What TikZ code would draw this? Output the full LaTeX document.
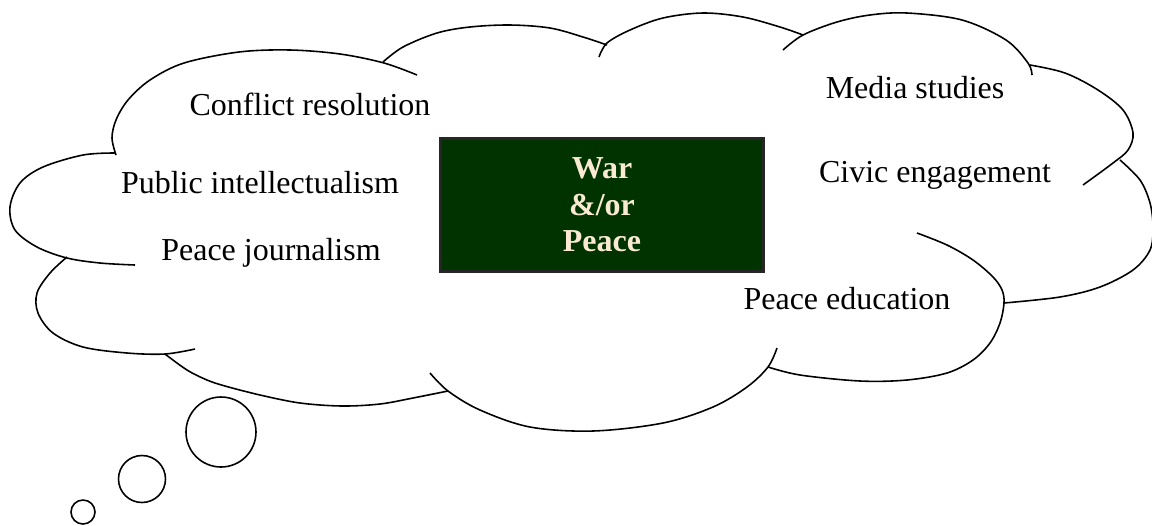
\documentclass[tikz,border=0pt]{standalone}
\usepackage{fontspec}
\setmainfont{Liberation Serif}
\definecolor{boxgreen}{RGB}{0,51,0}
\definecolor{boxtext}{RGB}{250,234,212}
\begin{document}
\begin{tikzpicture}[x=0.02cm, y=-0.02cm,
    lobe/.style={line width=0.9pt, smooth, tension=0.55},
    itemtext/.style={anchor=base, font=\fontsize{18.2}{20.8}\selectfont}]
          \useasboundingbox (0,0) rectangle (1152,525);

          % Define the thought bubbles for easier readability
          \def\bigbubble{(221,432) circle (35)}
          \def\midbubble{(142,479) circle (23.5)}
          \def\smallbubble{(83,512) circle (12)}

          % Draw the cloud, one lobe at a time
          \draw[lobe] plot coordinates {(116,155) (112,138) (116,120) (128,100) (150,80) (184,63) (239,52) (290,50) (340,54) (384,63) (417,75)};
          \draw[lobe] plot coordinates {(383,62) (403,47) (437,33) (470,27) (510,25) (550,28) (583,37) (607,45)};
          \draw[lobe] plot coordinates {(599,57) (607,43) (630,30) (663,18) (703,13) (743,17) (780,27) (803,35)};
          \draw[lobe] plot coordinates {(783,50) (803,35) (837,22) (870,15) (907,13) (962,20) (1006,40) (1028,63) (1032,75)};
          \draw[lobe] plot coordinates {(1030,65) (1065,73) (1098,90) (1123,110) (1133,133) (1128,150) (1113,163) (1083,185)};
          \draw[lobe] plot coordinates {(1120,160) (1140,180) (1150,203) (1153,227) (1150,250) (1133,270) (1100,287) (1060,297) (1004,303)};
          \draw[lobe] plot coordinates {(917,233) (947,245) (973,260) (993,277) (1002,290) (1004,303) (1000,323) (990,343) (973,360) (947,373) (907,380) (860,381) (800,375) (768,367)};
          \draw[lobe] plot coordinates {(777,348) (768,367) (747,387) (713,407) (663,423) (593,431) (530,427) (480,410) (448,391) (430,373)};
          \draw[lobe] plot coordinates {(448,391) (413,398) (380,404) (342,406) (300,403) (260,395) (225,386) (207,380) (187,370) (165,354)};
          \draw[lobe] plot coordinates {(67,257) (50,273) (37,293) (38,313) (53,333) (83,347) (127,353) (165,354) (195,349)};
          \draw[lobe] plot coordinates {(115,153) (83,155) (43,167) (20,183) (10,207) (15,230) (37,247) (67,258) (100,263) (135,265)};

          % Draw the bubbles
          \draw[line width=0.9pt] \bigbubble;
          \draw[line width=0.9pt] \midbubble;
          \draw[line width=0.9pt] \smallbubble;

          % The box in the middle
          \node[fill=boxgreen, draw=black!85, line width=1.2pt, minimum width=6.46cm, minimum height=2.66cm,
                text=boxtext, align=center, font=\fontsize{18.2}{20.8}\selectfont\bfseries]
                (warpeace) at (602,205) {War\\\&/or\\Peace};

          % Add the labels
          \node[itemtext] (conflict) at (310,115) {Conflict resolution};
          \node[itemtext] (public) at (260,193) {Public intellectualism};
          \node[itemtext] (journalism) at (271,260) {Peace journalism};
          \node[itemtext] (media) at (915,98) {Media studies};
          \node[itemtext] (civic) at (935,182) {Civic engagement};
          \node[itemtext] (education) at (847,309) {Peace education};
        \end{tikzpicture}
\end{document}
